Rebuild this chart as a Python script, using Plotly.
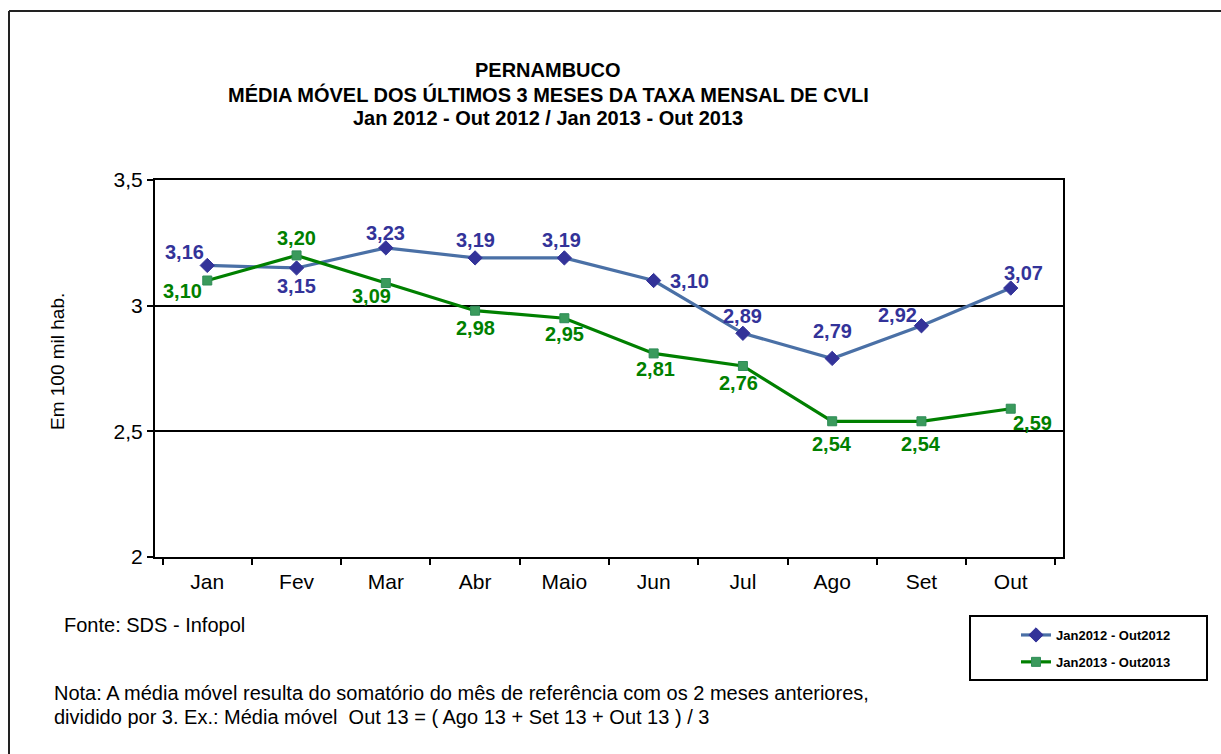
import plotly.graph_objects as go

months = ["Jan", "Fev", "Mar", "Abr", "Maio", "Jun", "Jul", "Ago", "Set", "Out"]
serie_2012 = [3.16, 3.15, 3.23, 3.19, 3.19, 3.10, 2.89, 2.79, 2.92, 3.07]
serie_2013 = [3.10, 3.20, 3.09, 2.98, 2.95, 2.81, 2.76, 2.54, 2.54, 2.59]
name_2012 = "Jan2012 - Out2012"
name_2013 = "Jan2013 - Out2013"
yticks = [2, 2.5, 3, 3.5]

# label offsets (px) for data labels
off_2012 = [(-23, 13), (0, -18), (0, 15), (0, 18), (-3, 18), (36, 0), (0, 17), (0, 27), (-24, 11), (13, 15)]
off_2013 = [(-25, -10), (0, 17), (-14, -13), (0, -17), (0, -16), (2, -16), (-4, -17), (0, -23), (0, -23), (22, -14)]

W, H = 1221, 754
L, R, T, B = 155, 1063, 180, 557

def px(x):
    return (x - L) / (R - L)

def py(y):
    return (B - y) / (B - T)

fig = go.Figure()
fig.add_trace(go.Scatter(
    x=months, y=serie_2012, name=name_2012, mode="lines+markers",
    line=dict(color="#4A70A6", width=3.2),
    marker=dict(symbol="diamond", size=11, color="#333399", line=dict(color="#333399", width=1)),
    legendgroup="a"))
fig.add_trace(go.Scatter(
    x=months, y=serie_2013, name=name_2013, mode="lines+markers",
    line=dict(color="#008000", width=3.2),
    marker=dict(symbol="square", size=9, color="#3A9A5C", line=dict(color="#2E8B57", width=1)),
    legendgroup="b"))

LBL = 20
anns = []
for i, m in enumerate(months):
    v = serie_2012[i]
    anns.append(dict(x=m, y=v, xref="x", yref="y", text=f"{v:.2f}".replace(".", ","),
                     showarrow=False, xshift=off_2012[i][0], yshift=off_2012[i][1],
                     font=dict(family="Liberation Sans, Arial", size=LBL, color="#333399", weight="bold")))
    v = serie_2013[i]
    anns.append(dict(x=m, y=v, xref="x", yref="y", text=f"{v:.2f}".replace(".", ","),
                     showarrow=False, xshift=off_2013[i][0], yshift=off_2013[i][1],
                     font=dict(family="Liberation Sans, Arial", size=LBL, color="#008000", weight="bold")))

title_lines = ["PERNAMBUCO", "MÉDIA MÓVEL DOS ÚLTIMOS 3 MESES DA TAXA MENSAL DE CVLI",
               "Jan 2012 - Out 2012 / Jan 2013 - Out 2013"]
for k, t in enumerate(title_lines):
    anns.append(dict(x=px(548), y=py(70 + 24 * k), xref="paper", yref="paper", text=t, showarrow=False,
                     xanchor="center", yanchor="middle",
                     font=dict(family="Liberation Sans, Arial", size=20, color="black", weight="bold")))

anns.append(dict(x=px(62), y=py(625), xref="paper", yref="paper", text="Fonte: SDS - Infopol",
                 showarrow=False, xanchor="left", yanchor="middle",
                 font=dict(family="Liberation Sans, Arial", size=20, color="black")))
nota_lines = ["Nota: A média móvel resulta do somatório do mês de referência com os 2 meses anteriores,",
              "dividido por 3. Ex.: Média móvel  Out 13 = ( Ago 13 + Set 13 + Out 13 ) / 3"]
for k, t in enumerate(nota_lines):
    anns.append(dict(x=px(52), y=py(693 + 24 * k), xref="paper", yref="paper", text=t,
                     showarrow=False, xanchor="left", yanchor="middle", align="left",
                     font=dict(family="Liberation Sans, Arial", size=20, color="black")))
anns.append(dict(x=px(57), y=py(362), xref="paper", yref="paper", text="Em 100 mil hab.",
                 showarrow=False, textangle=-90, xanchor="center", yanchor="middle",
                 font=dict(family="Liberation Sans, Arial", size=19, color="black")))

shapes = [
    dict(type="line", xref="paper", yref="paper", x0=px(9), x1=px(9), y0=py(11), y1=py(760),
         line=dict(color="#222222", width=2)),
    dict(type="line", xref="paper", yref="paper", x0=px(9), x1=px(1230), y0=py(11), y1=py(11),
         line=dict(color="#222222", width=2)),
    dict(type="rect", xref="paper", yref="paper", x0=px(970), x1=px(1207), y0=py(616), y1=py(680),
         line=dict(color="black", width=2), fillcolor="rgba(0,0,0,0)"),
]

fig.update_layout(
    width=W, height=H,
    margin=dict(l=L, r=W - R, t=T, b=H - B),
    paper_bgcolor="white", plot_bgcolor="white",
    separators=",.",
    showlegend=True,
    legend=dict(x=px(1016), y=py(620), xanchor="left", yanchor="top",
                borderwidth=0, bgcolor="rgba(0,0,0,0)",
                traceorder="grouped", tracegroupgap=7,
                font=dict(family="Liberation Sans, Arial", size=13, color="black", weight="bold")),
    annotations=anns, shapes=shapes,
    font=dict(family="Liberation Sans, Arial", color="black"),
)
fig.update_xaxes(showline=True, linecolor="black", linewidth=2, mirror=True,
                 ticks="outside", tickson="boundaries", ticklen=6, tickcolor="black", tickwidth=1.5,
                 showgrid=False, tickfont=dict(size=21, family="Liberation Sans, Arial"),
                 ticklabelstandoff=5, fixedrange=True)
fig.update_yaxes(range=[2, 3.5], tickvals=yticks, showline=True, linecolor="black", linewidth=2, mirror=True,
                 ticks="outside", ticklen=6, tickcolor="black", tickwidth=1.5,
                 showgrid=True, gridcolor="black", gridwidth=1.5, zeroline=False,
                 tickfont=dict(size=21, family="Liberation Sans, Arial"), fixedrange=True)

fig.write_html("out.html")
